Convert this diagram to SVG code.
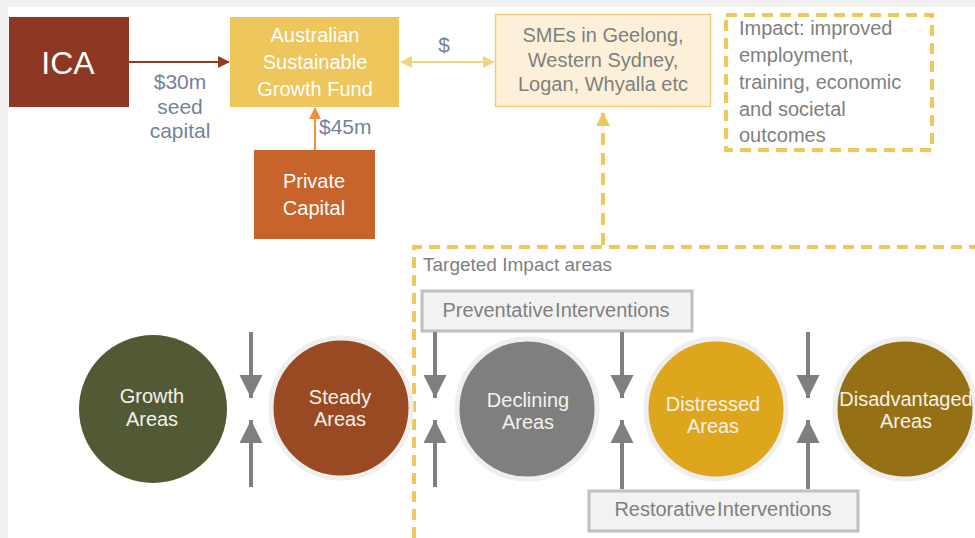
<svg xmlns="http://www.w3.org/2000/svg" width="975" height="538" viewBox="0 0 975 538">
<defs>
<style>
text{font-family:"Liberation Sans",Arial,sans-serif}
.w{fill:#FFFFFF}
.g{fill:#7F7F7F}
.lbl{fill:#74839A;font-size:21px}
.ct{fill:#F4F1EA;font-size:20px;text-anchor:middle}
.halo{stroke:#EFEFEF;stroke-width:5}
.dash{fill:none;stroke:#F0C75A;stroke-width:4;stroke-dasharray:11 7}
.ga{stroke:#7F7F7F;stroke-width:4;fill:none}
.ibox{fill:#F2F2F2;stroke:#BFBFBF;stroke-width:3}
</style>
<marker id="mRed" markerUnits="userSpaceOnUse" markerWidth="12" markerHeight="12" refX="11" refY="6" orient="auto"><path d="M0,0 L12,6 L0,12 Z" fill="#8E3A24"/></marker>
<marker id="mOr" markerUnits="userSpaceOnUse" markerWidth="12" markerHeight="12" refX="11" refY="6" orient="auto"><path d="M0,0 L12,6 L0,12 Z" fill="#F0903A"/></marker>
<marker id="mYel" markerUnits="userSpaceOnUse" markerWidth="12" markerHeight="12" refX="11" refY="6" orient="auto-start-reverse"><path d="M0,0 L12,6 L0,12 Z" fill="#F3D57E"/></marker>
<marker id="mYelD" markerUnits="userSpaceOnUse" markerWidth="14" markerHeight="14" refX="13" refY="7" orient="auto"><path d="M0,0 L14,7 L0,14 Z" fill="#F0C75A"/></marker>
<marker id="mGray" markerUnits="userSpaceOnUse" markerWidth="24" markerHeight="24" refX="23" refY="12" orient="auto"><path d="M0,0.5 L23,12 L0,23.5 Z" fill="#7F7F7F"/></marker>
</defs>
<rect x="0" y="0" width="975" height="538" fill="#F0F0F0"/>
<rect x="8" y="7" width="967" height="531" fill="#FFFFFF"/>

<g id="ica"><rect x="9" y="17" width="120" height="90" fill="#8E3722"/><text x="68" y="74" class="w" font-size="32" text-anchor="middle">ICA</text></g>

<g id="asgf"><rect x="230" y="17" width="169" height="90" fill="#EEC65C"/>
<text class="w" font-size="20" text-anchor="middle"><tspan x="315" y="42">Australian</tspan><tspan x="315" y="69">Sustainable</tspan><tspan x="315" y="96">Growth Fund</tspan></text></g>

<g id="private"><rect x="254" y="150" width="121" height="89" fill="#C8632B"/>
<text class="w" font-size="20" text-anchor="middle"><tspan x="314" y="188">Private</tspan><tspan x="314" y="215">Capital</tspan></text></g>

<g id="smes"><rect x="495.5" y="14.5" width="215" height="92" fill="#FCF1D8" stroke="#F0CD78" stroke-width="1.5"/>
<text class="g" font-size="20" text-anchor="middle"><tspan x="603" y="42">SMEs in Geelong,</tspan><tspan x="603" y="67">Western Sydney,</tspan><tspan x="603" y="91">Logan, Whyalla etc</tspan></text></g>

<g id="impact"><rect x="726" y="15" width="206" height="135" class="dash"/>
<text class="g" font-size="20"><tspan x="739" y="35">Impact: improved</tspan><tspan x="739" y="62">employment,</tspan><tspan x="739" y="89">training, economic</tspan><tspan x="739" y="116">and societal</tspan><tspan x="739" y="142">outcomes</tspan></text></g>

<g id="targeted"><path d="M414,538 V247 H975" class="dash"/>
<text x="423" y="271" class="g" font-size="19">Targeted Impact areas</text></g>

<g id="preventative"><rect x="422" y="291" width="270" height="40" class="ibox"/><text x="556" y="317" class="g" font-size="20" text-anchor="middle" word-spacing="-4">Preventative Interventions</text></g>
<g id="restorative"><rect x="589" y="491" width="269" height="40" class="ibox"/><text x="723" y="516" class="g" font-size="20" text-anchor="middle" word-spacing="-4">Restorative Interventions</text></g>

<g id="growth"><circle cx="153" cy="409" r="74" fill="#525935"/><text class="ct"><tspan x="152" y="403">Growth</tspan><tspan x="152" y="426">Areas</tspan></text></g>
<g id="steady"><circle cx="341" cy="408" r="70" fill="#9A4A22" class="halo"/><text class="ct"><tspan x="340" y="404">Steady</tspan><tspan x="340" y="426">Areas</tspan></text></g>
<g id="declining"><circle cx="527" cy="409" r="70" fill="#7F7F7F" class="halo"/><text class="ct"><tspan x="528" y="407">Declining</tspan><tspan x="528" y="429">Areas</tspan></text></g>
<g id="distressed"><circle cx="716" cy="409" r="70" fill="#DDA61C" class="halo"/><text class="ct"><tspan x="713" y="411">Distressed</tspan><tspan x="713" y="433">Areas</tspan></text></g>
<g id="disadvantaged"><circle cx="905" cy="409" r="70" fill="#957015" class="halo"/><text class="ct" font-size="19"><tspan x="906" y="406">Disadvantaged</tspan><tspan x="906" y="428">Areas</tspan></text></g>

<g id="connectors">
<line x1="129" y1="62" x2="229" y2="62" stroke="#8E3A24" stroke-width="2" marker-end="url(#mRed)"/>
<line x1="315" y1="150" x2="315" y2="108" stroke="#F0903A" stroke-width="2" marker-end="url(#mOr)"/>
<line x1="401" y1="62" x2="494" y2="62" stroke="#F3D57E" stroke-width="2" marker-start="url(#mYel)" marker-end="url(#mYel)"/>
<line x1="603" y1="245" x2="603" y2="113" stroke="#F0C75A" stroke-width="4" stroke-dasharray="12 8" marker-end="url(#mYelD)"/>
<line x1="251" y1="332" x2="251" y2="398" class="ga" marker-end="url(#mGray)"/>
<line x1="251" y1="487" x2="251" y2="420" class="ga" marker-end="url(#mGray)"/>
<line x1="435" y1="332" x2="435" y2="398" class="ga" marker-end="url(#mGray)"/>
<line x1="435" y1="487" x2="435" y2="420" class="ga" marker-end="url(#mGray)"/>
<line x1="622" y1="332" x2="622" y2="398" class="ga" marker-end="url(#mGray)"/>
<line x1="622" y1="489" x2="622" y2="420" class="ga" marker-end="url(#mGray)"/>
<line x1="808" y1="332" x2="808" y2="398" class="ga" marker-end="url(#mGray)"/>
<line x1="808" y1="489" x2="808" y2="420" class="ga" marker-end="url(#mGray)"/>
<text x="180" y="89" class="lbl" text-anchor="middle">$30m</text>
<text x="180" y="114" class="lbl" text-anchor="middle">seed</text>
<text x="180" y="138" class="lbl" text-anchor="middle">capital</text>
<text x="319" y="134" class="lbl">$45m</text>
<text x="444" y="52" class="lbl" font-size="22" text-anchor="middle">$</text>
</g>
</svg>
